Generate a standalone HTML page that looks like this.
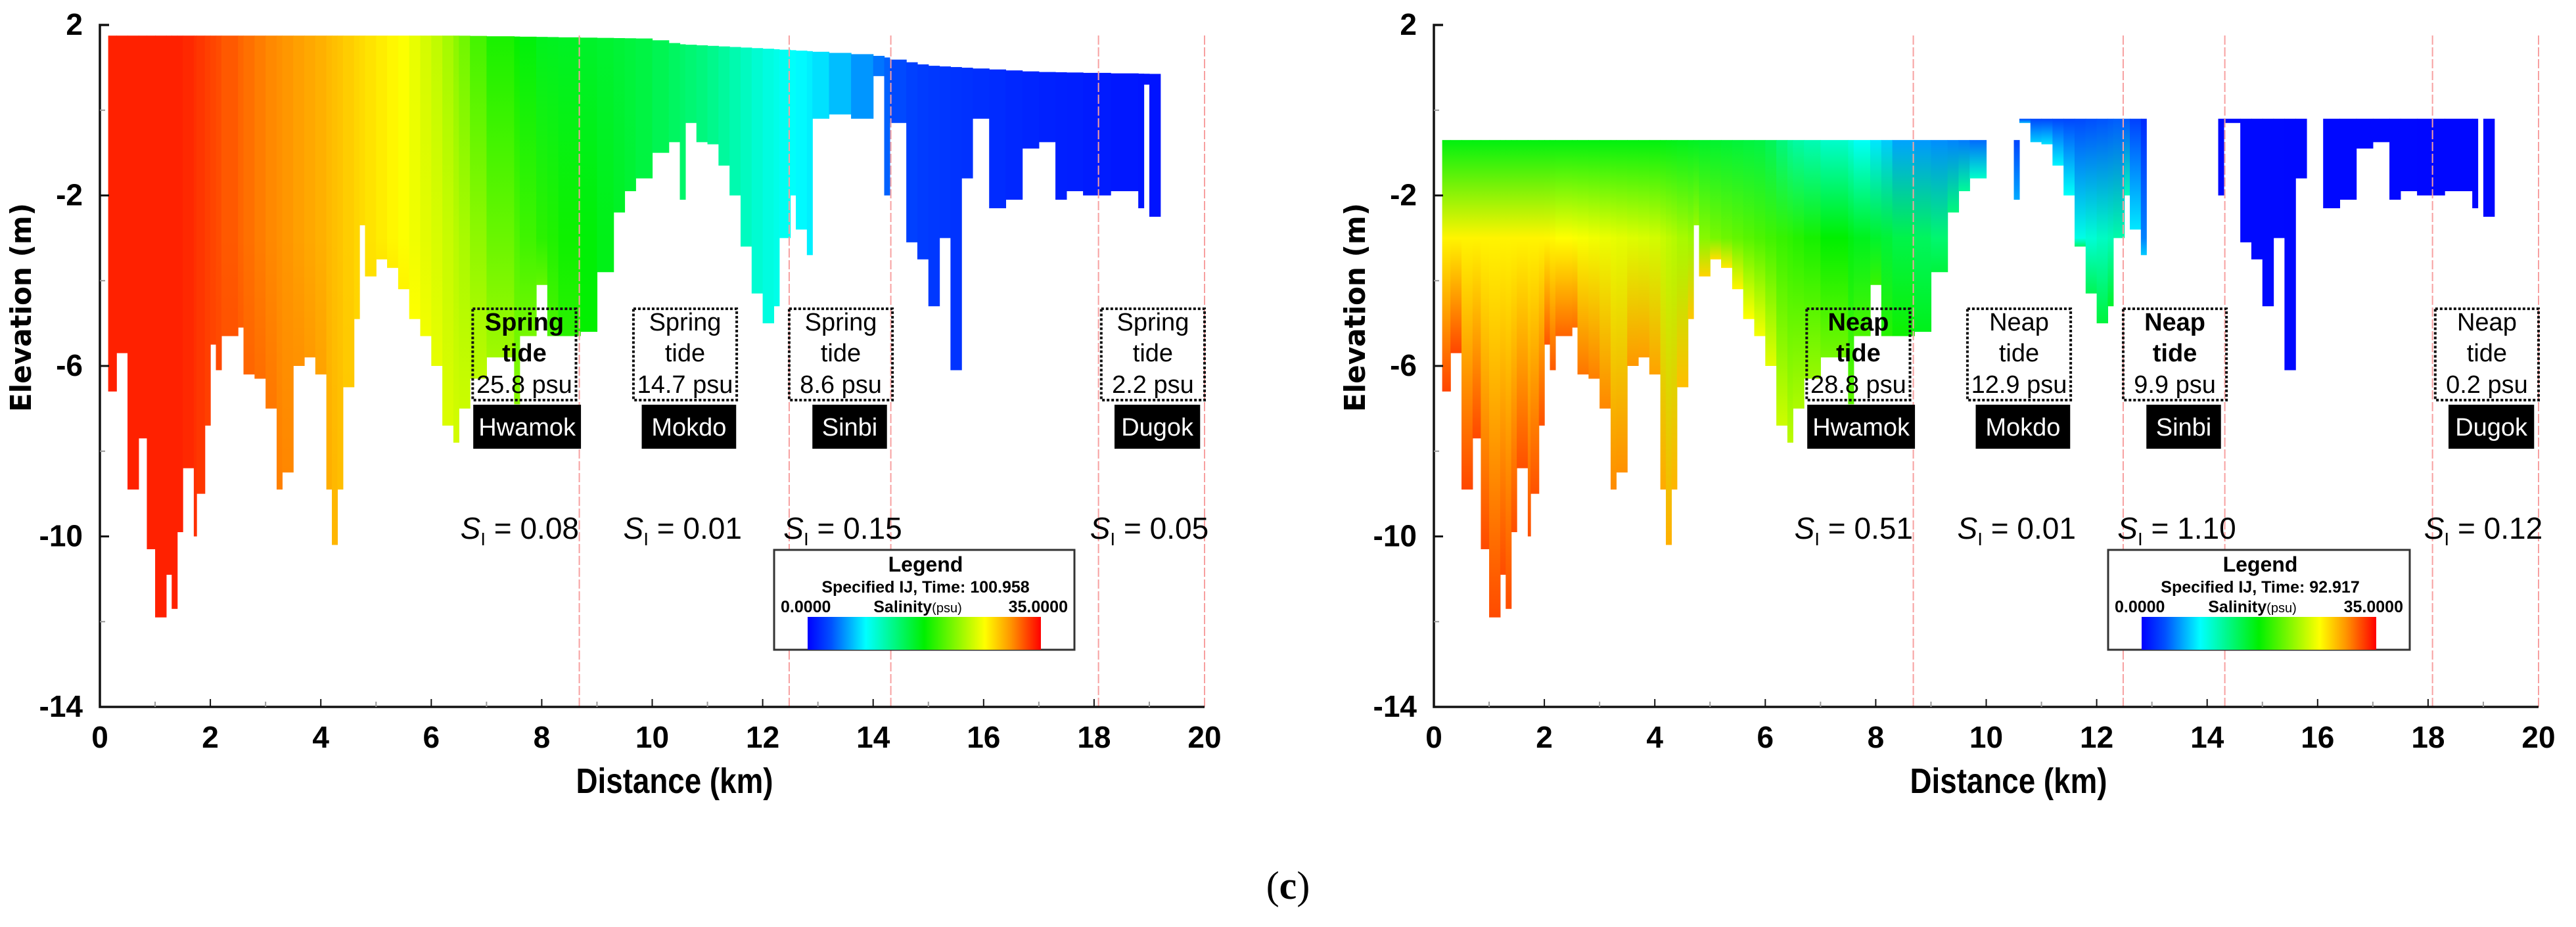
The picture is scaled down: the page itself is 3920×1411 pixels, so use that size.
<!DOCTYPE html>
<html><head><meta charset="utf-8"><style>
html,body{margin:0;padding:0;background:#fff}
svg{display:block}
text{font-family:"Liberation Sans Narrow","Liberation Sans",sans-serif}
</style></head><body>
<svg id="fig" xmlns="http://www.w3.org/2000/svg" width="3920" height="1411" viewBox="0 0 3920 1411">
<defs id="defs"></defs>
<g id="root"></g>
<text x="1960" y="1368" text-anchor="middle" font-size="60" style="font-family:'Liberation Serif',serif">(<tspan font-weight="bold">c</tspan>)</text>
</svg>
<script>
// ---- shared bathymetry (column start km, bottom elevation m) ----
const colStart = [0.15,0.3,0.5,0.7,0.85,1.0,1.2,1.3,1.4,1.5,1.7,1.75,1.9,2.0,2.1,2.2,2.5,2.6,2.8,3.0,3.2,3.3,3.5,3.7,3.9,4.1,4.2,4.3,4.4,4.6,4.7,4.8,5.0,5.2,5.4,5.6,5.8,6.0,6.2,6.4,6.5,6.7,7.0,7.5,7.6,7.9,8.1,8.3,8.7,9.0,9.3,9.5,9.7,10.0,10.3,10.5,10.6,10.8,11.0,11.2,11.4,11.6,11.8,12.0,12.2,12.3,12.5,12.6,12.8,12.9,13.2,13.6,14.0,14.2,14.3,14.6,14.8,15.0,15.2,15.4,15.6,15.8,16.1,16.4,16.7,17.0,17.3,17.5,17.8,18.3,18.8,18.9,19.0];
const colBottom = [-6.6,-5.7,-8.9,-7.7,-10.3,-11.9,-10.9,-11.7,-9.9,-8.4,-10.0,-9.0,-7.4,-5.5,-6.1,-5.3,-5.1,-6.2,-6.3,-7.0,-8.9,-8.5,-6.0,-5.8,-6.2,-8.9,-10.2,-8.9,-6.5,-4.9,-2.7,-3.9,-3.5,-3.7,-4.2,-4.9,-5.3,-6.0,-7.4,-7.8,-7.0,-6.3,-5.8,-6.9,-5.3,-4.1,-5.3,-5.3,-5.2,-3.8,-2.4,-1.9,-1.6,-1.0,-0.75,-2.1,-0.3,-0.75,-0.8,-1.3,-2.0,-3.2,-4.3,-5.0,-4.6,-3.0,-2.0,-2.8,-3.4,-0.2,-0.1,-0.2,0.8,-2.0,-0.3,-3.1,-3.5,-4.6,-3.0,-6.1,-1.6,-0.2,-2.3,-2.1,-0.9,-0.75,-2.1,-1.9,-2.0,-1.9,-2.3,0.6,-2.5];
const colEnd = 19.2;

// ---- spring tide (left) ----
const springSurfKm   = [0,6.5,8,10,10.5,12,14,15,17,19.2];
const springSurfElev = [1.75,1.75,1.72,1.68,1.55,1.45,1.3,1.05,0.9,0.85];
const springSalKm  = [0,1.5,2,3,4,4.7,5.5,6.2,7,8,9,10,11,12,13,14,14.5,15,17,19.2];
const springSalTop = [34,34,33,31,29.5,28,26.5,24,19,16.5,16,15,13,10,8,5,3,2.5,1.5,0.8];
const springSalMid = [34,34,33,31,29.5,28,26.5,25,22,19,17,15,13,10,8,5,3,2.5,1.5,0.8];
const springSalBot = [34,34,33,31.5,30,28,27,25.5,24,21,17,15,13,10,8,5,3,2.5,1.5,0.8];

// ---- neap tide (right) ----
const neapSurfKm   = [0,10.6,10.7,19.2];
const neapSurfElev = [-0.7,-0.7,-0.2,-0.2];
const neapDry = [[9.9,10.5],[10.6,10.7],[12.9,13.0],[13.1,13.3],[13.7,14.1]];
const neapSalKm  = [0,2,3,4,5,6,6.5,7.5,8.5,9.5,10.5,11.5,12.5,13,14,19.2];
const neapSalTop = [17,17,17,17,16,15,12,10,6,5,3,3,4,1,0.4,0.3];
const neapSalMid = [27,27,26,25,22,20,19,17,15,13,6,9,12,2,0.4,0.3];
const neapSalBot = [33,32.5,31,30,28,26,24,21,18,14,10,13,17,3,0.4,0.3];

// ---- annotations ----
const stationNames = ["Hwamok","Mokdo","Sinbi","Dugok"];
const stationBox   = [[6.75,8.62],[9.66,11.53],[12.48,14.35],[18.13,20.0]];
const stationLabel = [[6.76,8.71],[9.81,11.52],[12.9,14.25],[18.37,19.92]];
const siX = [7.6,10.55,13.45,19.0];
const springPsu = ["25.8","14.7","8.6","2.2"];
const neapPsu   = ["28.8","12.9","9.9","0.2"];
const springSI  = ["0.08","0.01","0.15","0.05"];
const neapSI    = ["0.51","0.01","1.10","0.12"];
const dashKm = [8.68,12.48,14.32,18.08,20.0];
const yTicks = [2,-2,-6,-10,-14];
const yMinor = [0,-4,-8,-12];
const xTicks = [0,2,4,6,8,10,12,14,16,18,20];

const NS = "http://www.w3.org/2000/svg";
const cmapPos = [0,0.1,0.25,0.5,0.76,0.87,1];
const cmapCol = [[0,0,255],[0,80,255],[0,255,255],[0,240,0],[255,255,0],[255,150,0],[255,0,0]];
function cmap(s){
  let t=Math.max(0,Math.min(1,s/35));
  for(let i=1;i<cmapPos.length;i++){
    if(t<=cmapPos[i]){const f=(t-cmapPos[i-1])/(cmapPos[i]-cmapPos[i-1]);const a=cmapCol[i-1],b=cmapCol[i];
      return "rgb("+a.map((v,k)=>Math.round(v+(b[k]-v)*f)).join(",")+")";}
  }
  return "rgb(255,0,0)";
}
function lerp(xs,ys,x){
  if(x<=xs[0])return ys[0];
  for(let i=1;i<xs.length;i++){if(x<=xs[i]){const f=(x-xs[i-1])/(xs[i]-xs[i-1]||1);return ys[i-1]+(ys[i]-ys[i-1])*f;}}
  return ys[ys.length-1];
}
function mk(tag,attrs,parent){const e=document.createElementNS(NS,tag);for(const k in attrs)e.setAttribute(k,attrs[k]);parent.appendChild(e);return e;}
const root=document.getElementById('root');
const defs=document.getElementById('defs');

const lg=mk('linearGradient',{id:'cbar',x1:0,x2:1,y1:0,y2:0},defs);
cmapPos.forEach((p,i)=>mk('stop',{offset:p,'stop-color':"rgb("+cmapCol[i].join(",")+")"},lg));

function drawChart(ox,cfg){
  const X=km=>ox+84.05*km;
  const Y=m=>38+(2-m)*64.875;
  const g=mk('g',{},root);
  
  
  for(let i=0;i<colStart.length;i++){
    const a=colStart[i], b=(i+1<colStart.length?colStart[i+1]:colEnd), mid=(a+b)/2;
    if(cfg.dry && cfg.dry.some(d=>mid>d[0]&&mid<d[1])) continue;
    const top=lerp(cfg.surfKm,cfg.surfElev,mid), bot=colBottom[i];
    if(bot>=top) continue;
    const gid=cfg.id+'g'+i;
    const y0=Y(top), y1=Y(bot), ym=Y(Math.max(bot,Math.min(top,-3)));
    const gr=mk('linearGradient',{id:gid,gradientUnits:'userSpaceOnUse',x1:0,x2:0,y1:y0,y2:y1},defs);
    const st=lerp(cfg.salKm,cfg.salTop,mid), sm=lerp(cfg.salKm,cfg.salMid,mid), sb=lerp(cfg.salKm,cfg.salBot,mid);
    const frac=(y1-y0)>0?(ym-y0)/(y1-y0):0.5;
    mk('stop',{offset:0,'stop-color':cmap(st)},gr);
    mk('stop',{offset:Math.max(0.01,Math.min(0.99,frac)),'stop-color':cmap(sm)},gr);
    mk('stop',{offset:1,'stop-color':cmap(frac>=0.99?sm:sb)},gr);
    const r=mk('rect',{x:X(a),y:y0,width:X(b)-X(a)+0.6,height:y1-y0,fill:'url(#'+gid+')'},g);
    
    
  }
  dashKm.forEach(k=>{const l=mk('line',{x1:X(k),x2:X(k),y1:54,y2:1076,stroke:'#f7a0a0','stroke-width':2,'stroke-dasharray':'14 4'},g);
    });
  const ax=mk('path',{d:`M${X(0)+14} ${Y(2)} H${X(0)} V${Y(-14)} H${X(20)}`,fill:'none',stroke:'#111','stroke-width':3.5},g);
  
  yTicks.forEach(v=>{
    mk('line',{x1:X(0),x2:X(0)+14,y1:Y(v),y2:Y(v),stroke:'#111','stroke-width':3},g);
    const t=mk('text',{x:X(0)-26,y:Y(v)+15,'text-anchor':'end','font-size':46,'font-weight':'bold'},g);
    t.textContent=v;
  });
  yMinor.forEach(v=>mk('line',{x1:X(0),x2:X(0)+8,y1:Y(v),y2:Y(v),stroke:'#999','stroke-width':2},g));
  for(let k=1;k<20;k++) mk('line',{x1:X(k),x2:X(k),y1:Y(-14),y2:Y(-14)-(k%2?8:12),stroke:k%2?'#999':'#111','stroke-width':2},g);
  xTicks.forEach(v=>{
    const t=mk('text',{x:X(v),y:1138,'text-anchor':'middle','font-size':46,'font-weight':'bold'},g);
    t.textContent=v;
  });
  const xt=mk('text',{x:X(10)+34,y:1207,'text-anchor':'middle','font-size':54,'font-weight':'bold',textLength:300,lengthAdjust:'spacingAndGlyphs'},g);
  xt.textContent='Distance (km)';
  const yt=mk('text',{x:0,y:0,'text-anchor':'middle','font-size':44,'font-weight':'bold',transform:`translate(${ox-105},468) rotate(-90)`,textLength:318,lengthAdjust:'spacingAndGlyphs',style:"font-family:'DejaVu Sans',sans-serif"},g);
  yt.textContent='Elevation (m)';
  stationNames.forEach((nm,i)=>{
    const bx=mk('rect',{x:X(stationBox[i][0]),y:470,width:X(stationBox[i][1])-X(stationBox[i][0]),height:139,fill:'none',stroke:'#111','stroke-width':4,'stroke-dasharray':'4 3'},g);
    
    const cx=(X(stationBox[i][0])+X(stationBox[i][1]))/2;
    const bold=(i===0||(cfg.id==='n'&&i===2))?'bold':'normal';
    [[cfg.tide,503,bold],['tide',550,bold]].forEach(([s,y,w])=>{const t=mk('text',{x:cx,y:y,'text-anchor':'middle','font-size':38,'font-weight':w},g);t.textContent=s;
      });
    const p=mk('text',{x:cx,y:598,'text-anchor':'middle','font-size':38},g);p.textContent=cfg.psu[i]+' psu';
    
    const lb=mk('rect',{x:X(stationLabel[i][0]),y:616,width:X(stationLabel[i][1])-X(stationLabel[i][0]),height:67,fill:'#000'},g);
    
    const lt=mk('text',{x:(X(stationLabel[i][0])+X(stationLabel[i][1]))/2,y:663,'text-anchor':'middle','font-size':38,fill:'#fff'},g);lt.textContent=nm;
    
    const si=mk('text',{x:X(siX[i]),y:820,'text-anchor':'middle','font-size':46},g);
    si.innerHTML='<tspan font-style="italic">S</tspan><tspan font-size="28" dy="10">I</tspan><tspan dy="-10"> = '+cfg.si[i]+'</tspan>';
    
  });
  const L=ox+1026;
  const lgBox=mk('g',{},g);
  
  mk('rect',{x:L,y:837,width:cfg.legW,height:152,fill:'#fff',stroke:'#333','stroke-width':3},lgBox);
  mk('rect',{x:L+51,y:939,width:cfg.legW-102,height:50,fill:'url(#cbar)'},lgBox);
  const lc=L+cfg.legW/2+2;
  const t1=mk('text',{x:lc,y:870,'text-anchor':'middle','font-size':32,'font-weight':'bold'},lgBox);t1.textContent='Legend';
  const t2=mk('text',{x:lc,y:902,'text-anchor':'middle','font-size':25,'font-weight':'bold',style:"font-family:'Liberation Sans',sans-serif"},lgBox);t2.textContent='Specified IJ, Time: '+cfg.time;
  const t3=mk('text',{x:L+10,y:932,'font-size':25,'font-weight':'bold',style:"font-family:'Liberation Sans',sans-serif"},lgBox);t3.textContent='0.0000';
  const t4=mk('text',{x:lc-12,y:932,'text-anchor':'middle','font-size':25,'font-weight':'bold',style:"font-family:'Liberation Sans',sans-serif"},lgBox);t4.innerHTML='Salinity<tspan font-size="20" font-weight="normal">(psu)</tspan>';
  const t5=mk('text',{x:L+cfg.legW-10,y:932,'text-anchor':'end','font-size':25,'font-weight':'bold',style:"font-family:'Liberation Sans',sans-serif"},lgBox);t5.textContent='35.0000';
}

drawChart(152,{id:'s',name:'spring-tide-chart',surfKm:springSurfKm,surfElev:springSurfElev,salKm:springSalKm,salTop:springSalTop,salMid:springSalMid,salBot:springSalBot,tide:'Spring',psu:springPsu,si:springSI,time:'100.958',legW:457});
drawChart(2182,{id:'n',name:'neap-tide-chart',surfKm:neapSurfKm,surfElev:neapSurfElev,dry:neapDry,salKm:neapSalKm,salTop:neapSalTop,salMid:neapSalMid,salBot:neapSalBot,tide:'Neap',psu:neapPsu,si:neapSI,time:'92.917',legW:459});
</script>
</body></html>
